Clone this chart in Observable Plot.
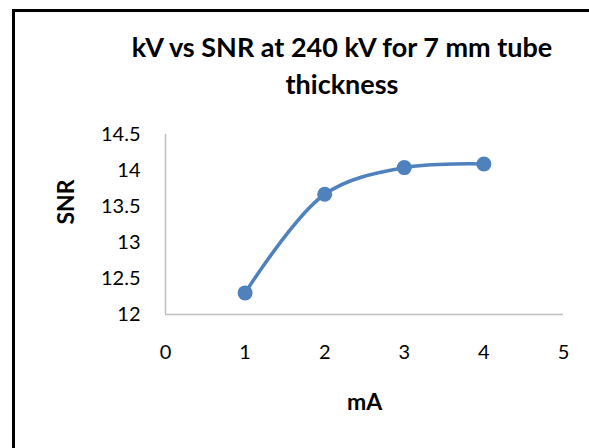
<!DOCTYPE html>
<html>
<head>
<meta charset="utf-8">
<script src="https://cdn.jsdelivr.net/npm/d3@7"></script>
<script src="https://cdn.jsdelivr.net/npm/@observablehq/plot@0.6"></script>
<style>
  html, body { margin: 0; padding: 0; background: #fff; }
  #wrap { position: relative; width: 589px; height: 448px; overflow: hidden; font-family: Lato, "Open Sans", sans-serif; }
  #frame { position: absolute; left: 12px; top: 9px; width: 700px; height: 600px; border: 3px solid #000; box-sizing: border-box; }
  #title { position: absolute; left: 92px; top: 28px; width: 500px; text-align: center; font-weight: bold; font-size: 27px; line-height: 37px; color: #000; }
  #chart { position: absolute; left: 0; top: 0; }
</style>
</head>
<body>
<div id="wrap">
  <div id="frame"></div>
  <div id="chart"></div>
  <div id="title">kV vs SNR at 240 kV for 7 mm tube<br>thickness</div>
</div>
<script>
const titleText = "kV vs SNR at 240 kV for 7 mm tube thickness";
const xLabel = "mA";
const yLabel = "SNR";
const mA = [1, 2, 3, 4];
const snr = [12.3, 13.67, 14.04, 14.09];
const xTicks = [0, 1, 2, 3, 4, 5];
const yTicks = [12, 12.5, 13, 13.5, 14, 14.5];

const data = mA.map((x, i) => ({x, y: snr[i]}));
const blue = "#4F81BD";
const axisGray = "#BFBFBF";
const font = "Lato, 'Open Sans', sans-serif";

const chart = Plot.plot({
  width: 589,
  height: 448,
  marginLeft: 165,
  marginRight: 26,
  marginTop: 134,
  marginBottom: 134,
  style: {background: "transparent", fontFamily: font, color: "#000"},
  x: {domain: [0, 5]},
  y: {domain: [12, 14.5]},
  marks: [
    Plot.axisX({ticks: xTicks, tickSize: 0, tickPadding: 30, label: null, tickFormat: d => String(d), fontSize: 20, fill: "#000"}),
    Plot.axisY({ticks: yTicks, tickSize: 0, tickPadding: 25, label: null, tickFormat: d => String(d), fontSize: 20, fill: "#000"}),
    Plot.ruleX([0], {stroke: axisGray, strokeWidth: 1.5}),
    Plot.ruleY([12], {stroke: axisGray, strokeWidth: 1.5}),
    Plot.line(data, {x: "x", y: "y", curve: "catmull-rom", stroke: blue, strokeWidth: 3.5}),
    Plot.dot(data, {x: "x", y: "y", r: 7.5, fill: blue, stroke: null}),
    Plot.text([yLabel], {frameAnchor: "left", dx: -99, rotate: -90, text: d => d, fontWeight: "bold", fontSize: 23, fill: "#000"}),
    Plot.text([xLabel], {frameAnchor: "bottom", dy: 95, text: d => d, fontWeight: "bold", fontSize: 23, fill: "#000"})
  ]
});
document.getElementById("chart").appendChild(chart);
</script>
</body>
</html>
